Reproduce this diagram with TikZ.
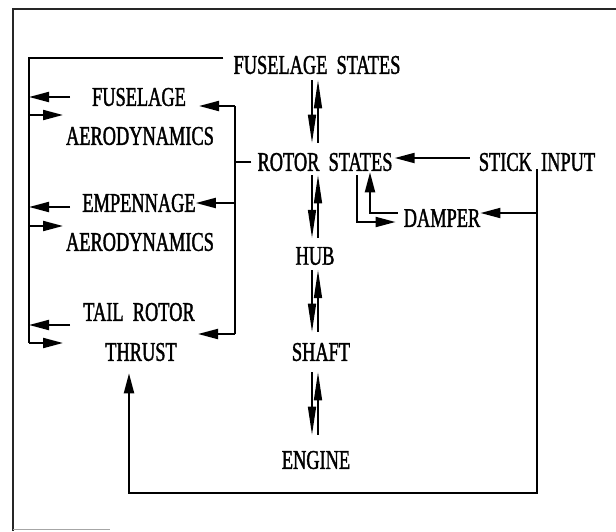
\documentclass[tikz,border=0pt]{standalone}
\usepackage{fontspec}
\setmainfont[FakeStretch=0.68,FakeBold=1.4,WordSpace=2]{Liberation Serif}
\usetikzlibrary{arrows.meta,calc}
\begin{document}
\begin{tikzpicture}[x=1pt,y=-1pt,
  lbl/.style={inner sep=0pt,font=\fontsize{27}{27}\selectfont},
  frameline/.style={line width=1.3pt,black!85},
  wire/.style={line width=2pt},
  thinw/.style={line width=1.4pt},
  arr/.style={wire,-{Triangle[length=20pt,width=10pt]}},
  darr/.style={thinw,-{Triangle[length=28pt,width=8pt]}}]
\useasboundingbox (0,0) rectangle (616,531);
% frame
\draw[frameline] (13,531) -- (13,9) -- (616,9);
\draw[line width=0.8pt,black!35] (13,529) -- (110,529);
% nodes
\node[lbl] (fs)  at (317,65)  {FUSELAGE STATES};
\node[lbl] (fa1) at (139,97)  {FUSELAGE};
\node[lbl] (fa2) at (140,136) {AERODYNAMICS};
\node[lbl] (rs)  at (325,162) {ROTOR STATES};
\node[lbl] (si)  at (537,162) {STICK INPUT};
\node[lbl] (em1) at (139,203) {EMPENNAGE};
\node[lbl] (em2) at (140,242) {AERODYNAMICS};
\node[lbl] (dm)  at (442,218) {DAMPER};
\node[lbl] (hub) at (315,256) {HUB};
\node[lbl] (tr1) at (139,312) {TAIL ROTOR};
\node[lbl] (tr2) at (141,352) {THRUST};
\node[lbl] (sh)  at (321,352) {SHAFT};
\node[lbl] (en)  at (316,460) {ENGINE};
% helper coordinates
\coordinate (lbus) at (29,58);
\coordinate (lend) at (29,343);
\coordinate (faOut) at (70,97);
\coordinate (emOut) at (70,207);
\coordinate (trOut) at (70,325);
\coordinate (faIn) at (63,115);
\coordinate (emIn) at (63,226);
\coordinate (trIn) at (63,343);
\coordinate (rtop) at (235,106);
\coordinate (rbot) at (235,334);
\coordinate (faTip) at (199,106);
\coordinate (trTip) at (198,334);
\coordinate (colL) at (312,0);
\coordinate (colR) at (318,0);
\coordinate (dL) at (357,0);
\coordinate (dR) at (370,0);
\coordinate (lb) at (129,493);
% left bus from fuselage states
\draw[wire] ($(fs.west)+(-10,-7)$) -- (lbus) -- (lend);
\draw[arr] (faOut) -- (faOut -| lbus);
\draw[arr] (faIn -| lbus) -- (faIn);
\draw[arr] (emOut) -- (emOut -| lbus);
\draw[arr] (emIn -| lbus) -- (emIn);
\draw[arr] (trOut) -- (trOut -| lbus);
\draw[arr] (trIn -| lbus) -- (trIn);
% right bus from rotor states
\draw[wire] ($(rs.west)+(-6,0)$) -- (rs.west -| rtop);
\draw[wire] (rtop) -- (rbot);
\draw[arr] (rtop) -- (faTip);
\draw[arr] (rtop |- em1.east) -- (em1.east);
\draw[arr] (rbot) -- (trTip);
% double arrows in the column
\draw[darr] ($(fs.south -| colL)+(0,6)$) -- ($(rs.north -| colL)+(0,-10)$);
\draw[darr] ($(rs.north -| colR)+(0,-10)$) -- ($(fs.south -| colR)+(0,6)$);
\draw[darr] ($(rs.south -| colL)+(0,4)$) -- ($(hub.north -| colL)+(0,-9)$);
\draw[darr] ($(hub.north -| colR)+(0,-9)$) -- ($(rs.south -| colR)+(0,4)$);
\draw[darr] ($(hub.south -| colL)+(0,5)$) -- ($(sh.north -| colL)+(0,-11)$);
\draw[darr] ($(sh.north -| colR)+(0,-11)$) -- ($(hub.south -| colR)+(0,5)$);
\draw[darr] ($(sh.south -| colL)+(0,11)$) -- ($(en.north -| colL)+(0,-16)$);
\draw[darr] ($(en.north -| colR)+(0,-16)$) -- ($(sh.south -| colR)+(0,11)$);
% damper loop
\draw[arr] ($(rs.south -| dL)+(0,4)$) |- ($(dm.west)+(-8,4)$);
\draw[arr] ($(dm.west)+(-6,-5)$) -| ($(rs.south -| dR)+(0,1)$);
% stick input
\draw[arr] ($(si.west)+(-9,-4)$) -- ($(rs.east)+(2,-4)$);
\draw[arr] ($(si.south |- dm.east)+(0,-5)$) -- ($(dm.east)+(0,-5)$);
\draw[arr] ($(si.south)+(0,-2)$) |- (lb) -- ($(tr2.south -| lb)+(0,12)$);
\end{tikzpicture}
\end{document}
